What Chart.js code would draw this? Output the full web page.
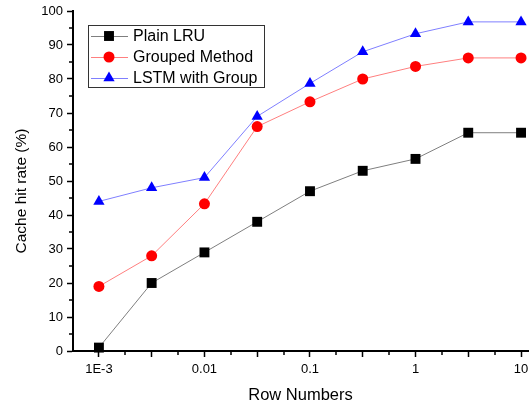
<!DOCTYPE html>
<html>
<head>
<meta charset="utf-8">
<script src="https://cdn.jsdelivr.net/npm/chart.js@4.4.1/dist/chart.umd.min.js"></script>
<style>
html, body { margin: 0; padding: 0; background: #fff; }
#wrap { width: 529px; height: 408px; }
</style>
</head>
<body>
<div id="wrap"><canvas id="hitChart"></canvas></div>
<script>
// row numbers on the x axis (log scale), values in %
const rowNumbers = [0.001, 0.00316, 0.01, 0.0316, 0.1, 0.316, 1, 3.16, 10];
const xTickLabels = ['1E-3', '', '0.01', '', '0.1', '', '1', '', '10'];
const xMinorTicks = [0.00178, 0.00562, 0.0178, 0.0562, 0.178, 0.562, 1.78, 5.62];
const yMinorTicks = [5, 15, 25, 35, 45, 55, 65, 75, 85, 95];

const plainLRU = [1, 20, 29, 38, 47, 53, 56.5, 64.2, 64.2];
const groupedMethod = [19, 28, 43.3, 66, 73.3, 80, 83.7, 86.2, 86.2];
const lstmWithGroup = [44, 48, 51, 69, 78.7, 88, 93.3, 96.8, 96.8];

const yTitle = 'Cache hit rate (%)';

const FONT = "'Liberation Sans', Arial, sans-serif";
Chart.defaults.color = '#000';
Chart.defaults.font.family = FONT;

function points(values) {
    return values.map((v, i) => ({ x: rowNumbers[i], y: v }));
}

function drawMarker(ctx, style, x, y, r, color) {
    ctx.fillStyle = color;
    ctx.beginPath();
    if (style === 'rect') {
        const s = Math.SQRT1_2 * r;
        ctx.rect(x - s, y - s, 2 * s, 2 * s);
    } else if (style === 'circle') {
        ctx.arc(x, y, r, 0, Math.PI * 2);
    } else {
        for (let k = 0; k < 3; k++) {
            const a = k * 2 * Math.PI / 3;
            const px = x + Math.sin(a) * r, py = y - Math.cos(a) * r;
            if (k === 0) ctx.moveTo(px, py); else ctx.lineTo(px, py);
        }
        ctx.closePath();
    }
    ctx.fill();
}

const extras = {
    id: 'extras',
    afterDraw(chart) {
        const ctx = chart.ctx;
        const area = chart.chartArea;
        const xs = chart.scales.x, ys = chart.scales.y;
        ctx.save();
        // minor ticks
        ctx.strokeStyle = '#000';
        ctx.lineWidth = 1.5;
        ctx.beginPath();
        xMinorTicks.forEach(v => {
            const px = Math.round(xs.getPixelForValue(v));
            ctx.moveTo(px, area.bottom);
            ctx.lineTo(px, area.bottom + 4);
        });
        yMinorTicks.forEach(v => {
            const py = Math.round(ys.getPixelForValue(v));
            ctx.moveTo(area.left, py);
            ctx.lineTo(area.left - 4, py);
        });
        ctx.stroke();

        // y axis title, sitting a little below the middle like the original
        ctx.save();
        ctx.translate(22, (area.top + area.bottom) / 2 + 10);
        ctx.rotate(-Math.PI / 2);
        ctx.font = '15.5px ' + FONT;
        ctx.fillStyle = '#000';
        ctx.textAlign = 'center';
        ctx.textBaseline = 'middle';
        ctx.fillText(yTitle, 0, 0);
        ctx.restore();

        // legend box
        const bx = area.left + 15, by = area.top + 14, bw = 176, bh = 62;
        ctx.fillStyle = '#fff';
        ctx.fillRect(bx, by, bw, bh);
        ctx.strokeStyle = '#333';
        ctx.lineWidth = 1;
        ctx.strokeRect(bx + 0.5, by + 0.5, bw, bh);
        ctx.font = '16px ' + FONT;
        ctx.textBaseline = 'middle';
        chart.data.datasets.forEach((ds, i) => {
            const ly = by + 11 + i * 21;
            ctx.strokeStyle = ds.borderColor;
            ctx.lineWidth = 1;
            ctx.beginPath();
            ctx.moveTo(bx + 3, ly + 0.5);
            ctx.lineTo(bx + 40, ly + 0.5);
            ctx.stroke();
            drawMarker(ctx, ds.pointStyle, bx + 21, ly, ds.pointRadius, ds.pointBackgroundColor);
            ctx.fillStyle = '#000';
            ctx.fillText(ds.label, bx + 45, ly + 1);
        });
        ctx.restore();
    }
};

new Chart(document.getElementById('hitChart'), {
    type: 'line',
    data: {
        datasets: [{
            label: 'Plain LRU',
            data: points(plainLRU),
            borderColor: '#7f7f7f',
            borderWidth: 1,
            pointStyle: 'rect',
            pointRadius: 7,
            pointBackgroundColor: '#000',
            pointBorderWidth: 0
        }, {
            label: 'Grouped Method',
            data: points(groupedMethod),
            borderColor: '#ff7f7f',
            borderWidth: 1,
            pointStyle: 'circle',
            pointRadius: 5.5,
            pointBackgroundColor: '#ff0000',
            pointBorderWidth: 0
        }, {
            label: 'LSTM with Group',
            data: points(lstmWithGroup),
            borderColor: '#7f7fff',
            borderWidth: 1,
            pointStyle: 'triangle',
            pointRadius: 6.5,
            pointBackgroundColor: '#0000ff',
            pointBorderWidth: 0
        }]
    },
    options: {
        responsive: true,
        maintainAspectRatio: false,
        animation: false,
        clip: false,
        layout: { autoPadding: false, padding: { top: 11, right: 1, left: 0, bottom: 0 } },
        plugins: {
            legend: { display: false },
            tooltip: { enabled: false }
        },
        scales: {
            x: {
                type: 'logarithmic',
                bounds: 'data',
                min: 0.000568,
                max: 11.64,
                afterBuildTicks: s => { s.ticks = rowNumbers.map(v => ({ value: v })); },
                afterFit: s => { s.height = 57; s.paddingLeft = 0; s.paddingRight = 0; },
                border: { display: true, color: '#000', width: 2 },
                grid: { drawOnChartArea: false, drawTicks: true, tickLength: 6, tickColor: '#000', tickWidth: 1.5 },
                ticks: {
                    autoSkip: false,
                    maxRotation: 0,
                    padding: 5,
                    font: { size: 13 },
                    callback: (v, i) => xTickLabels[i]
                },
                title: {
                    display: true,
                    text: 'Row Numbers',
                    font: { size: 16.5 },
                    padding: { top: 0, bottom: 3 }
                }
            },
            y: {
                min: 0,
                max: 100,
                afterFit: s => { s.width = 73; s.paddingTop = 0; s.paddingBottom = 0; },
                border: { display: true, color: '#000', width: 2 },
                grid: { drawOnChartArea: false, drawTicks: true, tickLength: 6, tickColor: '#000', tickWidth: 1.5 },
                ticks: {
                    stepSize: 10,
                    padding: 4,
                    font: { size: 13 }
                },
                title: { display: false }
            }
        }
    },
    plugins: [extras]
});
</script>
</body>
</html>
